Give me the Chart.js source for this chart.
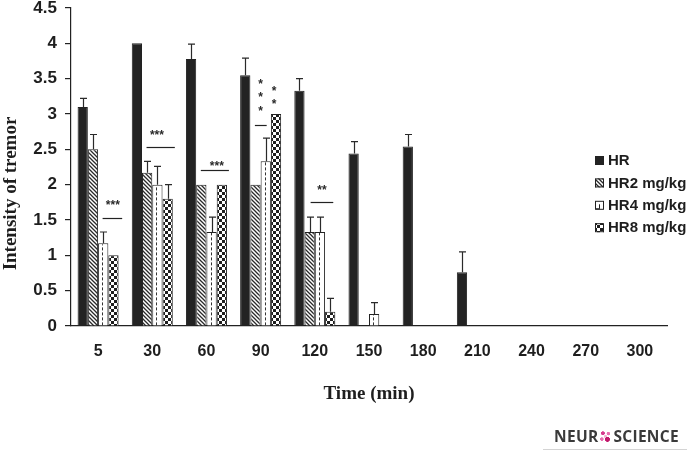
<!DOCTYPE html>
<html><head><meta charset="utf-8">
<script src="https://cdn.jsdelivr.net/npm/chart.js@4.4.0/dist/chart.umd.min.js"></script>
<style>
html,body{margin:0;padding:0;background:#fff;}
#wrap{position:relative;width:687px;height:453px;overflow:hidden;}
#c{position:absolute;left:0;top:0;}
#logo{position:absolute;left:554px;top:428px;font-family:'Open Sans',sans-serif;font-weight:bold;font-size:15.5px;color:#3a3a3a;line-height:17px;white-space:nowrap;letter-spacing:0.3px;}
#logo .o{display:inline-block;width:13px;height:13px;vertical-align:-1px;margin:0 1px;
 background:
  radial-gradient(circle at 30% 25%, #d63c8e 1.7px, transparent 2.1px),
  radial-gradient(circle at 72% 28%, #e86fb0 1.5px, transparent 2px),
  radial-gradient(circle at 22% 70%, #e86fb0 1.5px, transparent 2px),
  radial-gradient(circle at 65% 72%, #c2186b 2.2px, transparent 2.7px),
  radial-gradient(circle at 50% 50%, #f4b3d4 1.3px, transparent 1.8px);}
#logoLine{position:absolute;left:543px;top:449px;width:144px;height:1px;background:#d4d4d4;}
</style></head><body>
<div id="wrap">
<canvas id="c" width="687" height="453"></canvas>
<div id="logo">NEUR<span class="o"></span>SCIENCE</div>
<div id="logoLine"></div>
</div>
<script>
// ---- data ----
const categories = ['5','30','60','90','120','150','180','210','240','270','300'];
const seriesNames = ['HR','HR2 mg/kg','HR4 mg/kg','HR8 mg/kg'];
const hrValues  = [3.10, 4.00, 3.78, 3.55, 3.33, 2.44, 2.54, 0.76, 0, 0, 0];
const hrErrors  = [0.12, 0,    0.21, 0.24, 0.17, 0.17, 0.17, 0.29, 0, 0, 0];
const hr2Values = [2.50, 2.17, 2.00, 2.00, 1.33, 0, 0, 0, 0, 0, 0];
const hr2Errors = [0.21, 0.16, 0,    0,    0.21, 0, 0, 0, 0, 0, 0];
const hr4Values = [1.17, 2.00, 1.33, 2.33, 1.33, 0.17, 0, 0, 0, 0, 0];
const hr4Errors = [0.16, 0.26, 0.21, 0.33, 0.21, 0.16, 0, 0, 0, 0, 0];
const hr8Values = [1.00, 1.80, 2.00, 3.00, 0.20, 0, 0, 0, 0, 0, 0];
const hr8Errors = [0,    0.20, 0,    0,    0.19, 0, 0, 0, 0, 0, 0];
const yTickLabels = ['0','0.5','1','1.5','2','2.5','3','3.5','4','4.5'];
const xTitle = 'Time (min)';
const yTitle = 'Intensity of tremor';
// significance marks: category index, value, span in bar slots (0 = HR bar centre)
const sigLines = [
  {cat:0, y:1.53, from:1.94, to:3.85},
  {cat:1, y:2.54, from:0.94, to:3.70},
  {cat:2, y:2.21, from:0.95, to:3.69},
  {cat:3, y:2.85, from:0.94, to:2.09},
  {cat:4, y:1.75, from:1.09, to:3.30}
];
const sigStars = [
  {cat:0, y:1.76, at:2.94, text:'***'},
  {cat:1, y:2.75, at:1.95, text:'***'},
  {cat:2, y:2.31, at:2.51, text:'***'},
  {cat:3, y:3.47, at:1.50, text:'*'},
  {cat:3, y:3.28, at:1.50, text:'*'},
  {cat:3, y:3.08, at:1.50, text:'*'},
  {cat:3, y:3.37, at:2.80, text:'*'},
  {cat:3, y:3.19, at:2.80, text:'*'},
  {cat:4, y:1.97, at:2.19, text:'**'}
];
const allValues = [hrValues, hr2Values, hr4Values, hr8Values];
const allErrors = [hrErrors, hr2Errors, hr4Errors, hr8Errors];

// ---- patterns ----
const canvas = document.getElementById('c');
const ctx0 = canvas.getContext('2d');
function hatch(){
  const c=document.createElement('canvas'); c.width=4; c.height=4;
  const x=c.getContext('2d'); x.fillStyle='#fff'; x.fillRect(0,0,4,4);
  x.strokeStyle='#2a2a2a'; x.lineWidth=1.3; x.beginPath();
  x.moveTo(-1,-1); x.lineTo(5,5); x.moveTo(3,-1); x.lineTo(5,1); x.moveTo(-1,3); x.lineTo(1,5); x.stroke();
  return ctx0.createPattern(c,'repeat');
}
function checker(){
  const c=document.createElement('canvas'); c.width=6; c.height=6;
  const x=c.getContext('2d'); x.fillStyle='#fff'; x.fillRect(0,0,6,6);
  x.fillStyle='#1e1e1e'; x.fillRect(0,0,3,3); x.fillRect(3,3,3,3);
  return ctx0.createPattern(c,'repeat');
}
const fills = ['#232323', hatch(), '#ffffff', checker()];

const INK = '#222';
const extras = {
  id:'extras',
  afterDatasetsDraw(chart){
    const ctx = chart.ctx, ys = chart.scales.y;
    ctx.save();
    // dashed centre line in HR4 bars
    const m2 = chart.getDatasetMeta(2);
    ctx.strokeStyle = '#333'; ctx.lineWidth = 1; ctx.setLineDash([3,2]);
    m2.data.forEach((b,i)=>{
      if(!(hr4Values[i]>0)) return;
      const x = Math.round(b.x - 1) + 0.5;
      ctx.beginPath(); ctx.moveTo(x, b.base); ctx.lineTo(x, b.y + 1); ctx.stroke();
    });
    ctx.setLineDash([]);
    // error bars
    ctx.strokeStyle = '#2a2a2a'; ctx.lineWidth = 1.2;
    for(let d=0; d<4; d++){
      const meta = chart.getDatasetMeta(d);
      meta.data.forEach((b,i)=>{
        const v = allValues[d][i], e = allErrors[d][i];
        if(!(v>0 && e>0)) return;
        const top = ys.getPixelForValue(v+e);
        const x = Math.round(b.x) + 0.5;
        ctx.beginPath();
        ctx.moveTo(x, b.y); ctx.lineTo(x, top);
        ctx.moveTo(x-3.5, top); ctx.lineTo(x+3.5, top);
        ctx.stroke();
      });
    }
    // significance
    const m0 = chart.getDatasetMeta(0);
    const slotX = (cat, p) => { const b = m0.data[cat]; return b.x + p * b.width; };
    ctx.strokeStyle = '#222'; ctx.lineWidth = 1.2;
    sigLines.forEach(s=>{
      const y = Math.round(ys.getPixelForValue(s.y)) + 0.5;
      ctx.beginPath(); ctx.moveTo(slotX(s.cat,s.from), y); ctx.lineTo(slotX(s.cat,s.to), y); ctx.stroke();
    });
    ctx.fillStyle = '#2a2a2a'; ctx.font = 'bold 12px "Liberation Sans", Arial, sans-serif';
    ctx.textAlign = 'center'; ctx.textBaseline = 'alphabetic';
    sigStars.forEach(s=>{
      ctx.fillText(s.text, slotX(s.cat,s.at), ys.getPixelForValue(s.y) + 7);
    });
    // legend
    const lx = 595, ly0 = 160.5, dy = 22.4;
    ctx.font = 'bold 15px "Liberation Sans", Arial, sans-serif';
    ctx.textAlign = 'left'; ctx.textBaseline = 'middle';
    chart.data.datasets.forEach((ds,i)=>{
      const y = ly0 + i*dy;
      ctx.fillStyle = ds.backgroundColor;
      ctx.fillRect(lx, y-4.5, 9, 9);
      ctx.strokeStyle = '#222'; ctx.lineWidth = 1;
      ctx.strokeRect(lx+0.5, y-4, 8, 8);
      if(i===2){ ctx.beginPath(); ctx.moveTo(lx+4.5,y-1); ctx.lineTo(lx+4.5,y+3.5); ctx.lineTo(lx+1,y+3.5); ctx.stroke(); }
      ctx.fillStyle = '#1e1e1e';
      ctx.fillText(ds.label, 608, y+0.5);
    });
    // y axis title
    ctx.save();
    ctx.translate(11, 193.5); ctx.rotate(-Math.PI/2);
    ctx.font = 'bold 19px "Liberation Serif", "Times New Roman", serif';
    ctx.textAlign = 'center'; ctx.textBaseline = 'middle'; ctx.fillStyle = '#1e1e1e';
    ctx.fillText(yTitle, 0, 0);
    ctx.restore();
    ctx.restore();
  }
};

new Chart(canvas, {
  type:'bar',
  data:{
    labels: categories,
    datasets: seriesNames.map((n,i)=>({
      label:n, data: allValues[i], backgroundColor: fills[i],
      borderColor: INK, borderWidth: 1, borderSkipped: 'start',
      barPercentage: 1.0, categoryPercentage: 0.757
    }))
  },
  options:{
    responsive:false, animation:false, devicePixelRatio:1,
    layout:{padding:{top:8, right:20, left:0, bottom:0}},
    plugins:{legend:{display:false}, tooltip:{enabled:false}},
    scales:{
      x:{
        offset:true,
        grid:{display:true, drawOnChartArea:false, drawTicks:false},
        border:{display:true, color:INK, width:1.2},
        ticks:{color:'#1e1e1e', padding:16, maxRotation:0, autoSkip:false,
          font:{family:'"Liberation Sans", Arial, sans-serif', size:16, weight:'bold'}},
        title:{display:true, text:xTitle, color:'#1e1e1e', padding:{top:0,bottom:48},
          font:{family:'"Liberation Serif", "Times New Roman", serif', size:19, weight:'bold'}},
        afterFit(s){ s.height = 127; s.paddingLeft = 0; s.paddingRight = 0; }
      },
      y:{
        min:0, max:4.5,
        ticks:{stepSize:0.5, color:'#1e1e1e', padding:8,
          font:{family:'"Liberation Sans", Arial, sans-serif', size:17, weight:'bold'},
          callback:(v,i)=>yTickLabels[i]},
        grid:{display:true, drawOnChartArea:false, drawTicks:true, tickLength:6, color:INK, lineWidth:1.2},
        border:{display:true, color:INK, width:1.2},
        afterFit(s){ s.width = 71; s.paddingTop = 0; s.paddingBottom = 0; }
      }
    }
  },
  plugins:[extras]
});
</script>
</body></html>
